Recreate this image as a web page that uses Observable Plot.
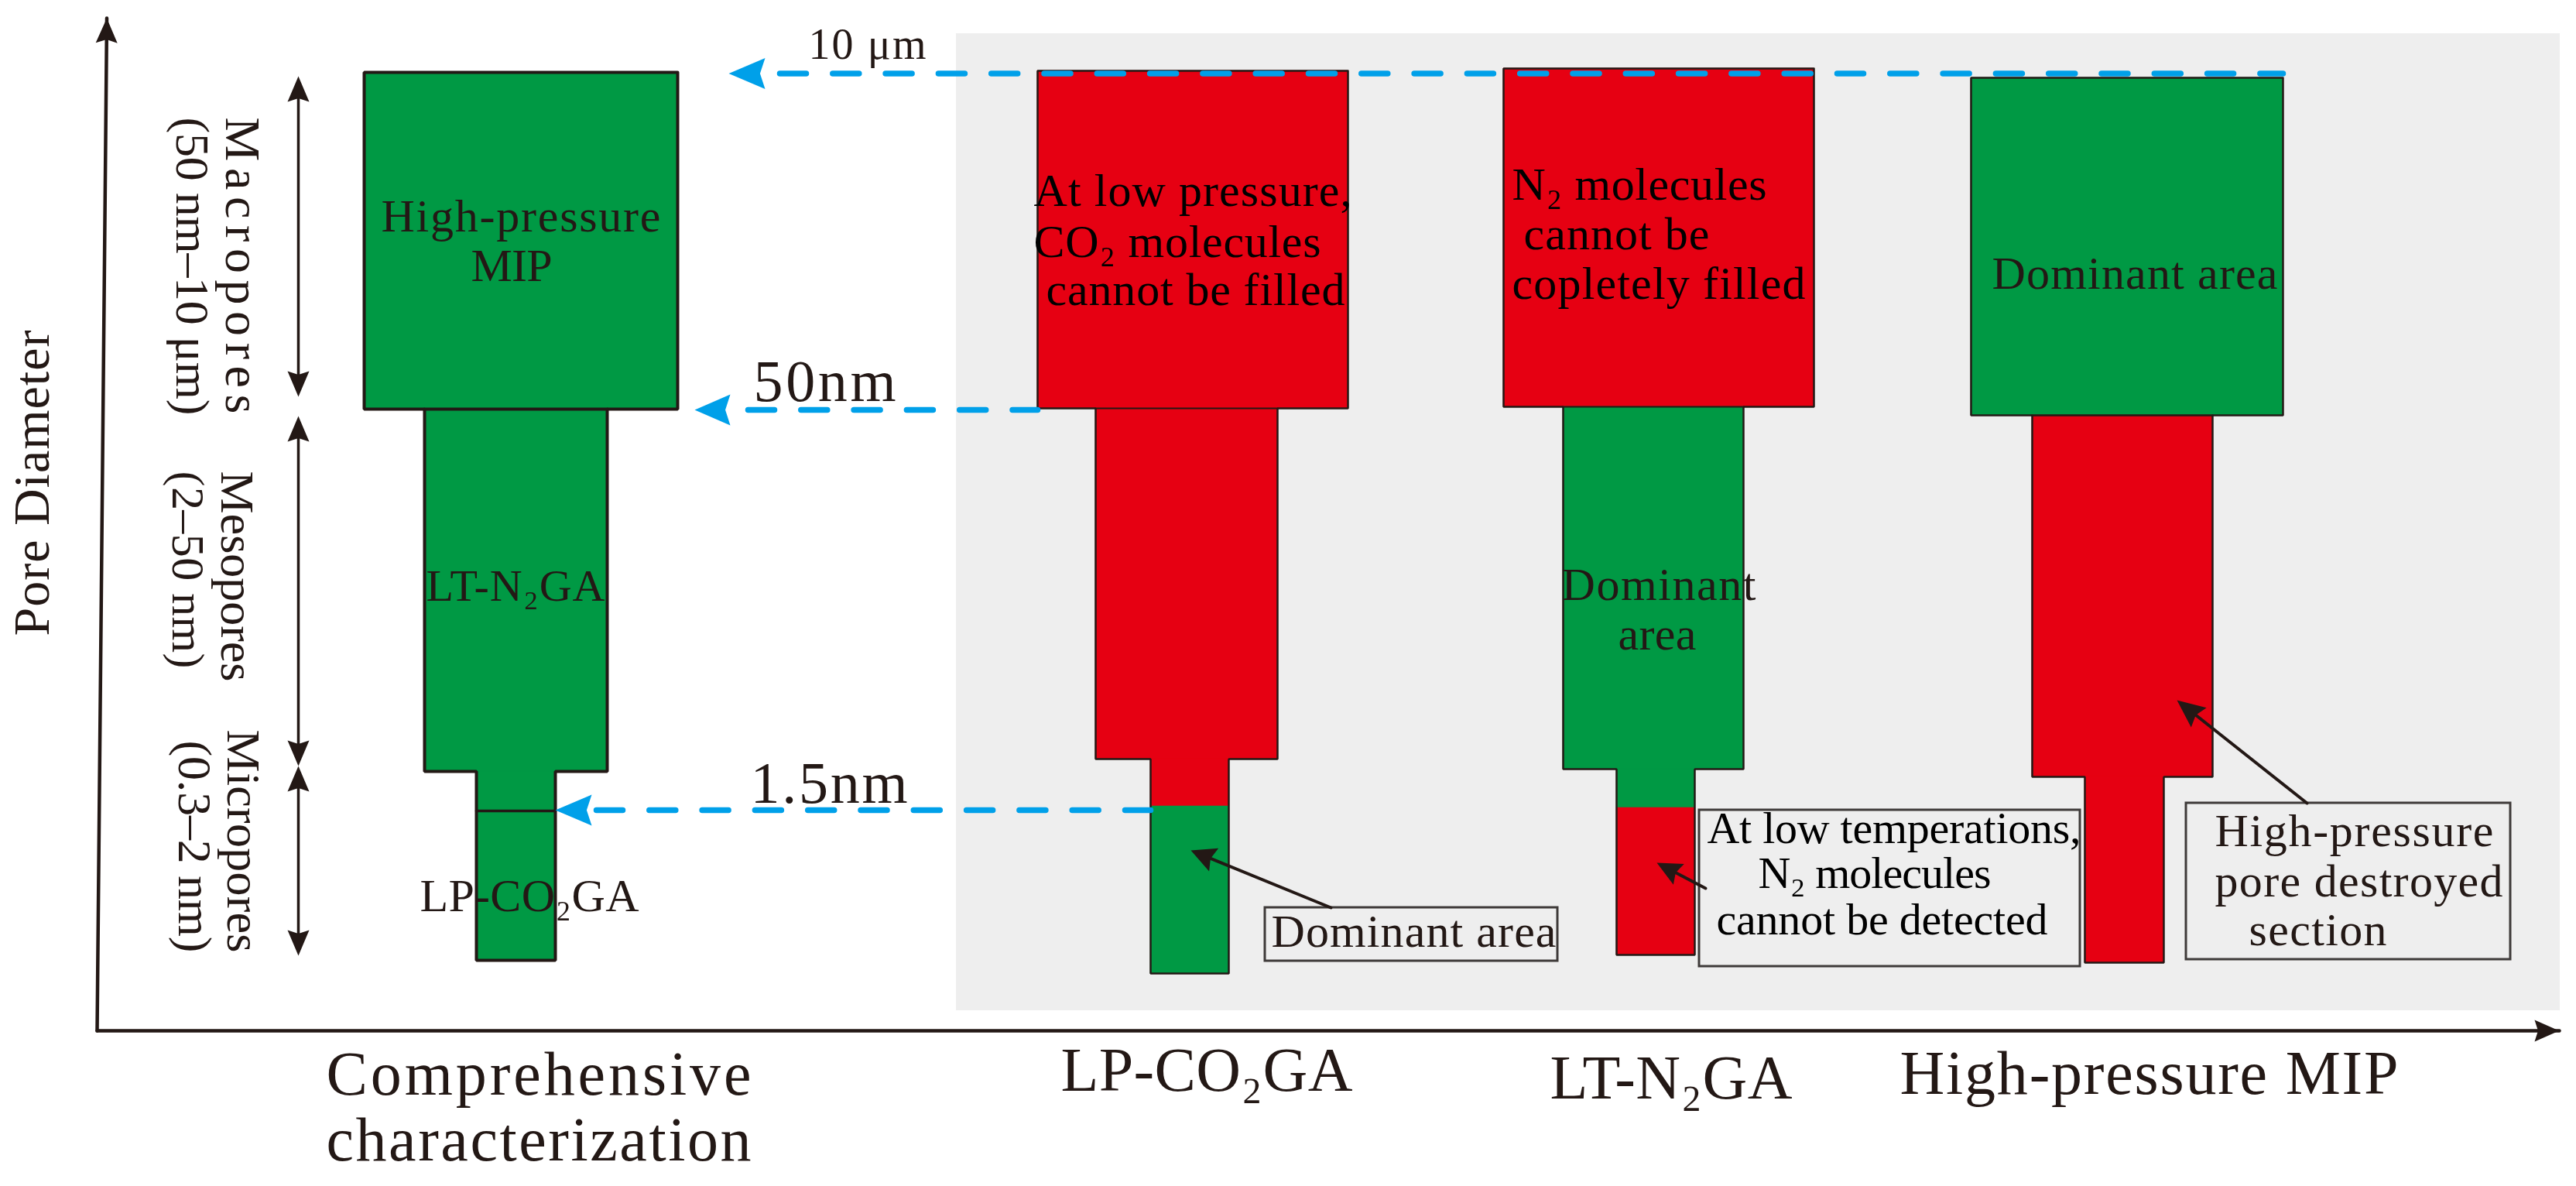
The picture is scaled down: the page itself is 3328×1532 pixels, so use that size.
<!DOCTYPE html>
<html>
<head>
<meta charset="utf-8">
<style>
html,body{margin:0;padding:0;background:#fff;overflow:hidden}
svg{display:block}
</style>
<script src="https://cdn.jsdelivr.net/npm/d3@7"></script>
<script src="https://cdn.jsdelivr.net/npm/@observablehq/plot@0.6"></script>
</head>
<body>
<div id="chart"></div>
<script>
const GREEN = "#009944", RED = "#e60012", BLUE = "#00a0e9", INK = "#231815", PANEL = "#eeeeee", BOXLINE = "#3e3a39";

// Stepped pore-size columns: [left, right, top, bottom, colour]
const comprehensive = [
  [470, 875, 93, 528, GREEN],
  [548, 784, 528, 996, GREEN],
  [615, 717, 996, 1240, GREEN]
];
const lpCo2 = [
  [1340, 1741, 91, 527, RED],
  [1415, 1650, 527, 980, RED],
  [1486, 1587, 980, 1041, RED],
  [1486, 1587, 1041, 1257, GREEN]
];
const ltN2 = [
  [1942, 2343, 88, 525, RED],
  [2019, 2252, 525, 993, GREEN],
  [2088, 2189, 993, 1043, GREEN],
  [2088, 2189, 1043, 1233, RED]
];
const mip = [
  [2546, 2949, 100, 536, GREEN],
  [2625, 2858, 536, 1003, RED],
  [2693, 2795, 1003, 1243, RED]
];
const dividers = [
  [548, 784, 528, 4], [615, 717, 1047, 3.5],
  [1415, 1650, 527, 2], [2019, 2252, 525, 2], [2625, 2858, 536, 2.5]
];

// Boundary markers: [dash start, dash end, level, arrow tip, arrow base]
const boundaries = [
  [1007, 2949, 94.5, 941, 988],
  [966, 1340, 529, 897, 943],
  [770, 1486, 1046, 717, 764]
];
// Pore-class ranges: [top, bottom]
const ranges = [[98, 512], [537, 989], [989, 1234]];
const rangeAxis = 385;

// Callout boxes: [left, right, top, bottom]
const boxes = [
  [1634, 2012, 1172, 1241],
  [2195, 2687, 1046, 1248],
  [2824, 3243, 1037, 1239]
];
// Callout arrows: [from x, from y, tip x, tip y, head length, head half-width]
const callouts = [
  [1719, 1172, 1538, 1098, 32, 16],
  [2203, 1147, 2140, 1114, 32, 15],
  [2980, 1037, 2812, 904, 36, 16]
];
// Axes: [from x, from y, tip x, tip y]
const axisLines = [
  [125, 1331, 137.5, 23],
  [125, 1331, 3306, 1331]
];

// Text: [string, x, baseline, fitted length, font size, rotation, colour]
const labels = [
  ["Pore Diameter", 62, 821, 395, 66, -90, INK],
  ["Macropores", 291, 151, 383, 64, 90, INK],
  ["(50 nm–10 μm)", 227, 151, 385, 62, 90, INK],
  ["Mesopores", 285, 608, 272, 62, 90, INK],
  ["(2–50 nm)", 222, 608, 255, 60, 90, INK],
  ["Micropores", 293, 942, 288, 62, 90, INK],
  ["(0.3–2 nm)", 230, 956, 274, 62, 90, INK],
  ["10 μm", 1044, 75.5, 152, 56, 0, INK],
  ["50nm", 973, 517, 184, 76, 0, INK],
  ["1.5nm", 969, 1036, 203, 76, 0, INK],
  ["High-pressure", 492, 298, 361, 60, 0, INK],
  ["MIP", 608, 362, 105, 60, 0, INK],
  ["LT-N₂GA", 550, 775, 231, 58, 0, INK],
  ["LP-CO₂GA", 542, 1176, 283, 60, 0, INK],
  ["At low pressure,", 1335, 265, 411, 60, 0, "#000"],
  ["CO₂ molecules", 1335, 331, 371, 60, 0, "#000"],
  ["cannot be filled", 1351, 393, 386, 60, 0, "#000"],
  ["N₂ molecules", 1953, 257, 329, 60, 0, "#000"],
  ["cannot be", 1968, 321, 240, 60, 0, "#000"],
  ["copletely filled", 1953, 385, 379, 60, 0, "#000"],
  ["Dominant", 2017, 774, 251, 60, 0, INK],
  ["area", 2090, 838, 101, 60, 0, INK],
  ["Dominant area", 2573, 372, 369, 60, 0, INK],
  ["Dominant area", 1642, 1222, 368, 60, 0, INK],
  ["At low temperations,", 2205, 1088, 483, 58, 0, "#000"],
  ["N₂ molecules", 2271, 1146, 301, 58, 0, "#000"],
  ["cannot be detected", 2217, 1206, 428, 58, 0, "#000"],
  ["High-pressure", 2861, 1092, 360, 60, 0, INK],
  ["pore destroyed", 2861, 1157, 372, 60, 0, INK],
  ["section", 2905, 1220, 178, 60, 0, INK],
  ["Comprehensive", 421, 1413, 549, 80, 0, INK],
  ["characterization", 421, 1498, 549, 80, 0, INK],
  ["LP-CO₂GA", 1370, 1408, 377, 80, 0, INK],
  ["LT-N₂GA", 2002, 1418, 313, 80, 0, INK],
  ["High-pressure MIP", 2454, 1412, 644, 80, 0, INK]
];

const columns = [comprehensive, lpCo2, ltN2, mip];
const outlineWidths = [4, 2.5, 2.5, 2.5];

const segments = columns.flat().map(([x1, x2, y1, y2, fill]) => ({x1, x2, y1, y2, fill}));

function silhouette(col, id) {
  const right = col.flatMap(([, x2, y1, y2]) => [[x2, y1], [x2, y2]]);
  const left = col.flatMap(([x1, , y1, y2]) => [[x1, y1], [x1, y2]]).reverse();
  return [...right, ...left, [col[0][1], col[0][2]]].map(([x, y]) => ({x, y, id}));
}

let headId = 0;
function head(fromX, fromY, tipX, tipY, len, half, notch = 0.14) {
  const d = Math.hypot(tipX - fromX, tipY - fromY);
  const ux = (tipX - fromX) / d, uy = (tipY - fromY) / d;
  const bx = tipX - ux * len, by = tipY - uy * len;
  const id = headId++;
  return [
    [tipX, tipY],
    [bx - uy * half, by + ux * half],
    [bx + ux * len * notch, by + uy * len * notch],
    [bx + uy * half, by - ux * half],
    [tipX, tipY]
  ].map(([x, y]) => ({x, y, id}));
}

const blueHeads = boundaries.flatMap(([, , y, tip, base]) => head(base, y, tip, y, base - tip, 20));
const inkHeads = [
  ...axisLines.flatMap(([x1, y1, x2, y2]) => head(x1, y1, x2, y2, 32, 14)),
  ...ranges.flatMap(([t, b]) => [
    ...head(rangeAxis, b, rangeAxis, t, 33, 14),
    ...head(rangeAxis, t, rangeAxis, b, 33, 14)
  ]),
  ...callouts.flatMap(([x1, y1, x2, y2, l, h]) => head(x1, y1, x2, y2, l, h))
];

const segmentsOf = (rows, f) => rows.flatMap((r, i) => f(r).map(([x, y]) => ({x, y, id: i})));

function fitLabels(index, scales, values, dimensions, context, next) {
  const g = next(index, scales, values, dimensions, context);
  d3.select(g).selectAll("text").each(function (_, i) {
    this.setAttribute("textLength", labels[index[i]][3]);
    this.setAttribute("lengthAdjust", "spacing");
  });
  return g;
}

const chart = Plot.plot({
  width: 3328,
  height: 1532,
  margin: 0,
  style: {background: "#fff", overflow: "visible"},
  x: {domain: [0, 3328], range: [0, 3328], axis: null},
  y: {domain: [0, 1532], range: [0, 1532], axis: null},
  color: {type: "identity"},
  marks: [
    Plot.rect([[1235, 3307, 43, 1305]], {x1: d => d[0], x2: d => d[1], y1: d => d[2], y2: d => d[3], fill: PANEL}),
    Plot.rect(segments, {x1: "x1", x2: "x2", y1: "y1", y2: "y2", fill: "fill", stroke: "fill", strokeWidth: 0.5}),
    ...columns.map((col, i) => Plot.line(silhouette(col, i), {x: "x", y: "y", z: "id", stroke: INK, strokeWidth: outlineWidths[i], strokeLinejoin: "miter"})),
    ...dividers.map(([x1, x2, y, w]) => Plot.line([[x1, y], [x2, y]], {x: d => d[0], y: d => d[1], stroke: INK, strokeWidth: w})),
    Plot.line(segmentsOf(boundaries, ([a, b, y]) => [[a, y], [b, y]]), {x: "x", y: "y", z: "id", stroke: BLUE, strokeWidth: 7.5, strokeDasharray: "34,34.3"}),
    Plot.line(blueHeads, {x: "x", y: "y", z: "id", fill: BLUE, stroke: "none"}),
    Plot.line(segmentsOf(axisLines, ([a, b, c, d]) => [[a, b], [c, d]]), {x: "x", y: "y", z: "id", stroke: INK, strokeWidth: 4.5}),
    Plot.line(segmentsOf(ranges, ([t, b]) => [[rangeAxis, t + 10], [rangeAxis, b - 10]]), {x: "x", y: "y", z: "id", stroke: INK, strokeWidth: 3.5}),
    Plot.rect(boxes, {x1: d => d[0], x2: d => d[1], y1: d => d[2], y2: d => d[3], fill: "none", stroke: BOXLINE, strokeWidth: 3}),
    Plot.line(segmentsOf(callouts, ([a, b, c, d]) => [[a, b], [a + (c - a) * 0.9, b + (d - b) * 0.9]]), {x: "x", y: "y", z: "id", stroke: INK, strokeWidth: 4}),
    Plot.line(inkHeads, {x: "x", y: "y", z: "id", fill: INK, stroke: "none"}),
    Plot.text(labels, {
      x: d => d[1], y: d => d[2], text: d => d[0],
      fontSize: d => d[4], rotate: d => d[5], fill: d => d[6],
      textAnchor: "start", lineAnchor: "bottom",
      fontFamily: "Liberation Serif",
      render: fitLabels
    })
  ]
});
document.getElementById("chart").appendChild(chart);
</script>
</body>
</html>
